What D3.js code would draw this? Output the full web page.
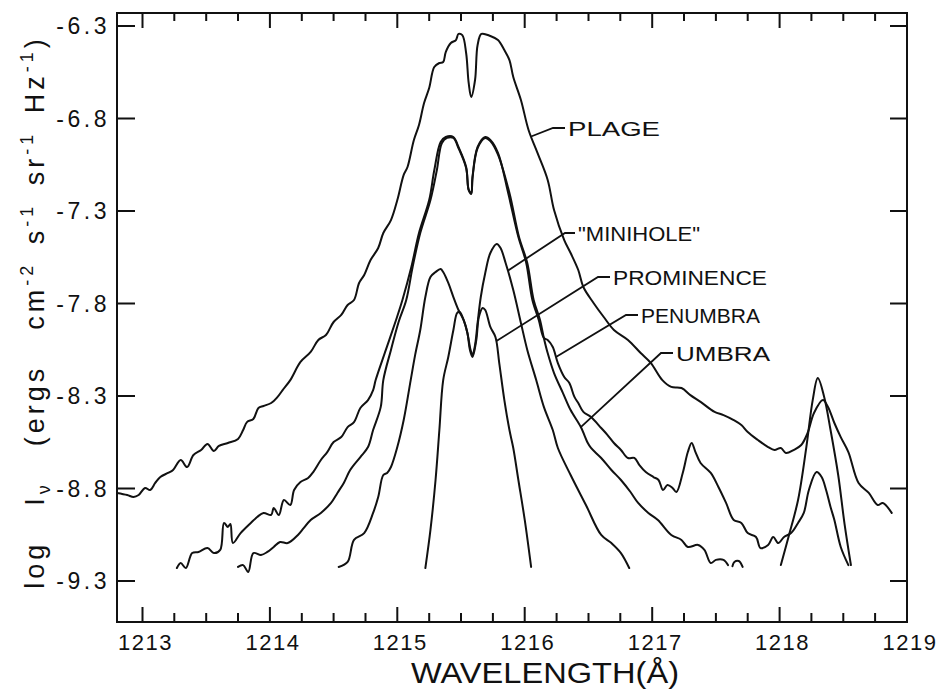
<!DOCTYPE html>
<html><head><meta charset="utf-8">
<script src="https://cdn.jsdelivr.net/npm/d3@7"></script>
<style>body{margin:0;background:#fff}</style>
</head><body><svg id="c" width="943" height="693"></svg>
<script>
// ---- data (wavelength in Å, log I_nu) ----
const xTickValues = [1213,1214,1215,1216,1217,1218,1219];
const yTickValues = [-6.3,-6.8,-7.3,-7.8,-8.3,-8.8,-9.3];
const seriesNames = ["PLAGE","\"MINIHOLE\"","PROMINENCE","PENUMBRA","UMBRA"];

const plage = [
[1212.80,-8.824],[1212.88,-8.835],[1212.93,-8.846],[1212.97,-8.835],[1213.02,-8.797],[1213.06,-8.808],[1213.10,-8.770],[1213.14,-8.738],[1213.20,-8.716],[1213.24,-8.700],[1213.30,-8.646],[1213.35,-8.684],[1213.40,-8.619],[1213.46,-8.592],[1213.51,-8.559],[1213.56,-8.597],[1213.60,-8.570],[1213.67,-8.554],[1213.75,-8.532],[1213.79,-8.484],[1213.82,-8.441],[1213.87,-8.424],[1213.91,-8.365],[1213.95,-8.354],[1214.01,-8.338],[1214.06,-8.305],[1214.10,-8.268],[1214.16,-8.214],[1214.24,-8.116],[1214.32,-8.062],[1214.38,-7.997],[1214.44,-7.970],[1214.50,-7.900],[1214.56,-7.862],[1214.61,-7.808],[1214.66,-7.781],[1214.70,-7.689],[1214.74,-7.646],[1214.79,-7.565],[1214.85,-7.500],[1214.89,-7.419],[1214.95,-7.349],[1215.00,-7.241],[1215.05,-7.105],[1215.08,-7.062],[1215.13,-6.916],[1215.17,-6.835],[1215.21,-6.716],[1215.25,-6.635],[1215.29,-6.522],[1215.33,-6.500],[1215.36,-6.495],[1215.38,-6.441],[1215.42,-6.392],[1215.46,-6.376],[1215.48,-6.343],[1215.51,-6.349],[1215.54,-6.446],[1215.56,-6.608],[1215.58,-6.684],[1215.61,-6.592],[1215.63,-6.403],[1215.66,-6.343],[1215.73,-6.354],[1215.79,-6.376],[1215.84,-6.430],[1215.88,-6.484],[1215.91,-6.576],[1215.97,-6.700],[1216.03,-6.862],[1216.10,-6.986],[1216.18,-7.132],[1216.23,-7.295],[1216.31,-7.457],[1216.36,-7.527],[1216.42,-7.619],[1216.46,-7.711],[1216.54,-7.797],[1216.62,-7.873],[1216.70,-7.943],[1216.81,-7.997],[1216.91,-8.068],[1216.99,-8.122],[1217.08,-8.214],[1217.15,-8.251],[1217.23,-8.257],[1217.30,-8.295],[1217.38,-8.332],[1217.49,-8.386],[1217.56,-8.403],[1217.64,-8.430],[1217.70,-8.457],[1217.75,-8.495],[1217.83,-8.538],[1217.91,-8.576],[1217.96,-8.592],[1218.01,-8.581],[1218.05,-8.608],[1218.11,-8.592],[1218.17,-8.565],[1218.22,-8.500],[1218.27,-8.392],[1218.34,-8.322],[1218.38,-8.359],[1218.43,-8.446],[1218.48,-8.522],[1218.54,-8.603],[1218.62,-8.770],[1218.70,-8.824],[1218.77,-8.889],[1218.81,-8.878],[1218.88,-8.932]
];

const minihole = [
[1214.54,-9.224],[1214.61,-9.197],[1214.66,-9.078],[1214.74,-9.041],[1214.81,-8.932],[1214.85,-8.846],[1214.89,-8.727],[1214.92,-8.716],[1214.95,-8.684],[1215.00,-8.576],[1215.05,-8.430],[1215.105,-8.214],[1215.14,-8.078],[1215.18,-7.943],[1215.22,-7.765],[1215.26,-7.657],[1215.30,-7.630],[1215.34,-7.614],[1215.36,-7.630],[1215.40,-7.689],[1215.44,-7.765],[1215.48,-7.835],[1215.52,-7.889],[1215.55,-7.959],[1215.575,-8.051],[1215.59,-8.078],[1215.61,-8.024],[1215.63,-7.905],[1215.655,-7.765],[1215.69,-7.635],[1215.73,-7.527],[1215.78,-7.478],[1215.81,-7.500],[1215.85,-7.581],[1215.91,-7.727],[1215.97,-7.905],[1216.02,-8.051],[1216.09,-8.214],[1216.15,-8.359],[1216.22,-8.484],[1216.26,-8.581],[1216.36,-8.727],[1216.48,-8.889],[1216.60,-9.051],[1216.68,-9.095],[1216.755,-9.149],[1216.82,-9.230]
];

const prominence = [
[1215.22,-9.230],[1215.26,-9.024],[1215.30,-8.754],[1215.33,-8.484],[1215.36,-8.214],[1215.40,-8.089],[1215.44,-7.943],[1215.47,-7.851],[1215.49,-7.846],[1215.52,-7.889],[1215.55,-7.959],[1215.57,-8.051],[1215.59,-8.089],[1215.62,-7.997],[1215.64,-7.873],[1215.67,-7.824],[1215.69,-7.835],[1215.73,-7.927],[1215.77,-7.981],[1215.80,-8.122],[1215.84,-8.322],[1215.88,-8.484],[1215.91,-8.581],[1215.95,-8.754],[1216.00,-8.970],[1216.05,-9.224]
];

const penumbra = [
[1213.27,-9.230],[1213.30,-9.203],[1213.34,-9.230],[1213.39,-9.149],[1213.44,-9.143],[1213.51,-9.122],[1213.56,-9.149],[1213.61,-9.132],[1213.64,-8.986],[1213.67,-9.008],[1213.69,-8.992],[1213.71,-9.095],[1213.77,-9.041],[1213.85,-8.986],[1213.90,-8.954],[1213.95,-8.932],[1214.01,-8.943],[1214.03,-8.905],[1214.07,-8.943],[1214.11,-8.862],[1214.16,-8.889],[1214.19,-8.808],[1214.24,-8.765],[1214.30,-8.743],[1214.34,-8.711],[1214.40,-8.646],[1214.45,-8.603],[1214.50,-8.549],[1214.56,-8.522],[1214.61,-8.468],[1214.66,-8.441],[1214.71,-8.365],[1214.77,-8.322],[1214.81,-8.268],[1214.83,-8.214],[1214.91,-8.051],[1214.99,-7.889],[1215.04,-7.781],[1215.11,-7.603],[1215.17,-7.419],[1215.25,-7.241],[1215.29,-7.080],[1215.34,-6.927],[1215.38,-6.900],[1215.44,-6.900],[1215.48,-6.954],[1215.54,-7.062],[1215.56,-7.186],[1215.58,-7.203],[1215.59,-7.116],[1215.63,-6.954],[1215.69,-6.900],[1215.73,-6.916],[1215.79,-6.986],[1215.87,-7.203],[1215.95,-7.441],[1216.01,-7.576],[1216.06,-7.781],[1216.11,-7.889],[1216.15,-7.986],[1216.18,-7.997],[1216.22,-8.035],[1216.26,-8.122],[1216.31,-8.197],[1216.35,-8.230],[1216.39,-8.305],[1216.42,-8.338],[1216.46,-8.386],[1216.52,-8.414],[1216.60,-8.473],[1216.65,-8.511],[1216.70,-8.554],[1216.755,-8.592],[1216.81,-8.635],[1216.86,-8.635],[1216.90,-8.673],[1216.95,-8.711],[1217.01,-8.738],[1217.05,-8.754],[1217.085,-8.808],[1217.12,-8.781],[1217.16,-8.797],[1217.19,-8.819],[1217.24,-8.716],[1217.28,-8.603],[1217.31,-8.554],[1217.34,-8.603],[1217.38,-8.662],[1217.46,-8.716],[1217.52,-8.792],[1217.58,-8.878],[1217.64,-8.970],[1217.70,-8.986],[1217.75,-9.041],[1217.815,-9.062],[1217.85,-9.122],[1217.91,-9.105],[1217.95,-9.062],[1217.99,-9.095],[1218.035,-9.062],[1218.09,-9.041],[1218.145,-8.986],[1218.19,-8.932],[1218.23,-8.808],[1218.29,-8.711],[1218.33,-8.738],[1218.365,-8.808],[1218.40,-8.900],[1218.43,-8.970],[1218.48,-9.116],[1218.54,-9.214]
];

const umbra = [
[1213.75,-9.224],[1213.79,-9.214],[1213.83,-9.251],[1213.87,-9.149],[1213.93,-9.159],[1213.98,-9.143],[1214.03,-9.116],[1214.08,-9.089],[1214.14,-9.095],[1214.22,-9.051],[1214.265,-9.014],[1214.32,-8.970],[1214.40,-8.932],[1214.48,-8.878],[1214.53,-8.824],[1214.58,-8.770],[1214.63,-8.700],[1214.71,-8.630],[1214.77,-8.576],[1214.81,-8.484],[1214.87,-8.359],[1214.89,-8.214],[1214.95,-8.051],[1215.01,-7.900],[1215.07,-7.781],[1215.12,-7.603],[1215.18,-7.419],[1215.26,-7.241],[1215.31,-7.080],[1215.35,-6.932],[1215.39,-6.905],[1215.44,-6.905],[1215.48,-6.960],[1215.54,-7.068],[1215.56,-7.186],[1215.58,-7.208],[1215.59,-7.122],[1215.63,-6.960],[1215.69,-6.905],[1215.73,-6.922],[1215.79,-6.995],[1215.88,-7.203],[1215.955,-7.441],[1216.02,-7.581],[1216.07,-7.781],[1216.12,-7.889],[1216.15,-7.986],[1216.18,-8.068],[1216.23,-8.176],[1216.30,-8.284],[1216.36,-8.376],[1216.44,-8.468],[1216.495,-8.554],[1216.52,-8.581],[1216.60,-8.635],[1216.68,-8.700],[1216.755,-8.754],[1216.83,-8.819],[1216.89,-8.878],[1216.97,-8.932],[1217.045,-8.970],[1217.15,-9.051],[1217.23,-9.078],[1217.28,-9.116],[1217.36,-9.105],[1217.41,-9.132],[1217.46,-9.203],[1217.50,-9.186],[1217.56,-9.186],[1217.595,-9.214],null,[1217.63,-9.220],[1217.645,-9.197],[1217.68,-9.192],[1217.71,-9.224]
];

const umbraOV = [
[1218.01,-9.214],[1218.07,-9.062],[1218.145,-8.862],[1218.21,-8.576],[1218.26,-8.322],[1218.30,-8.203],[1218.35,-8.305],[1218.40,-8.484],[1218.46,-8.727],[1218.51,-8.992],[1218.56,-9.214]
];

// ---- layout ----
const frame = {l:117, r:907, t:13, b:622};
const ink = "#111";
const font = "Liberation Sans, Arial, sans-serif";
const svg = d3.select("#c");
const x = d3.scaleLinear().domain([1212.8, 1219.0]).range([frame.l, frame.r]);
const y = d3.scaleLinear().domain([-6.3, -9.3]).range([26, 581]);

const minorX = d3.range(0, 25).map(i => 1213 + i * 0.25).filter(v => Math.abs(v - Math.round(v)) > 1e-6);

// frame
svg.append("rect").attr("x", frame.l).attr("y", frame.t)
  .attr("width", frame.r - frame.l).attr("height", frame.b - frame.t)
  .attr("fill", "none").attr("stroke", ink).attr("stroke-width", 2);

// tick marks, drawn inward from the frame, as one path each
function xTickPath(vals, y0, len) {
  return vals.map(v => `M${x(v).toFixed(1)},${y0}V${y0 + len}`).join("");
}
function yTickPath(vals, x0, len) {
  return vals.map(v => `M${x0},${y(v).toFixed(1)}H${x0 + len}`).join("");
}
const tickD = [
  xTickPath(xTickValues, frame.b, -15),
  xTickPath(minorX, frame.b, -9),
  xTickPath(xTickValues, frame.t, 15),
  xTickPath(minorX, frame.t, 8),
  yTickPath(yTickValues, frame.l, 18),
  yTickPath(yTickValues, frame.r, -17)
].join("");
svg.append("path").attr("d", tickD).attr("fill", "none")
  .style("stroke", ink).style("stroke-width", "2px");

// tick labels
svg.append("g").selectAll("text").data(xTickValues).join("text")
  .attr("x", d => x(d) + 3).attr("y", 650).attr("text-anchor", "middle")
  .attr("font-family", font).attr("font-size", 22).attr("fill", ink).attr("letter-spacing", 1.5)
  .text(d => d3.format("d")(d));
svg.append("g").selectAll("text").data(yTickValues).join("text")
  .attr("x", frame.l - 7).attr("y", d => y(d) + 8).attr("text-anchor", "end")
  .attr("font-family", font).attr("font-size", 23).attr("fill", ink).attr("letter-spacing", 3.5)
  .text(d => "-" + Math.abs(d).toFixed(1));

// curves
const line = d3.line().defined(d => d).x(d => x(d[0])).y(d => y(d[1])).curve(d3.curveCatmullRom.alpha(0.5));
[plage, minihole, prominence, penumbra, umbra, umbraOV].forEach(s => {
  svg.append("path").attr("d", line(s)).attr("fill", "none")
    .attr("stroke", ink).attr("stroke-width", 2).attr("stroke-linejoin","round").attr("stroke-linecap","round");
});

// labels with leader lines
function interp(series, lam) {
  const pts = series.filter(d => d);
  for (let i = 0; i < pts.length - 1; i++) {
    const a = pts[i], b = pts[i+1];
    if (lam >= a[0] && lam <= b[0]) return a[1] + (b[1]-a[1]) * (lam - a[0]) / (b[0]-a[0]);
  }
  return pts[pts.length-1][1];
}
const labelSpecs = [
  {series: plage,      lam: 1216.05,  tx: 568, ty: 136, len: 92,  stub: 12},
  {series: minihole,   lam: 1215.867, tx: 578, ty: 241, len: 122, stub: 10},
  {series: prominence, lam: 1215.775, tx: 613, ty: 285, len: 154, stub: 12},
  {series: penumbra,   lam: 1216.245, tx: 641, ty: 323, len: 119, stub: 12},
  {series: umbra,      lam: 1216.44,  tx: 676, ty: 361, len: 94,  stub: 12}
];
labelSpecs.forEach((s, i) => {
  const ax = x(s.lam), ay = y(interp(s.series, s.lam));
  const my = s.ty - 8;
  svg.append("path")
    .attr("d", d3.line()([[s.tx - 3, my], [s.tx - 3 - s.stub, my], [ax, ay]]))
    .attr("fill", "none").attr("stroke", ink).attr("stroke-width", 1.8);
  svg.append("text").attr("x", s.tx).attr("y", s.ty)
    .attr("font-family", font).attr("font-size", 21)
    .attr("fill", ink).attr("textLength", s.len).attr("lengthAdjust", "spacingAndGlyphs")
    .text(seriesNames[i]);
});

// axis titles
svg.append("text").attr("x", 545).attr("y", 683).attr("text-anchor", "middle")
  .attr("font-family", font).attr("font-size", 29)
  .attr("fill", ink).attr("textLength", 268).attr("lengthAdjust", "spacingAndGlyphs")
  .text("WAVELENGTH(Å)");

const yt = svg.append("text").attr("transform", "translate(44,312) rotate(-90)")
  .attr("text-anchor", "middle")
  .attr("font-family", font).attr("font-size", 27).attr("fill", ink)
  .attr("letter-spacing", 4).attr("word-spacing", 6);
const parts = [
  ["log  I", 0, 27], ["ν", 6, 18], ["  (ergs  cm", -6, 27], ["-2", -11, 18], [" s", 11, 27], ["-1", -11, 18],
  [" sr", 11, 27], ["-1", -11, 18], [" Hz", 11, 27], ["-1", -11, 18], [")", 11, 27]
];
parts.forEach(p => yt.append("tspan").attr("dy", p[1]).attr("font-size", p[2]).attr("xml:space","preserve").text(p[0]));
</script>
</body></html>
